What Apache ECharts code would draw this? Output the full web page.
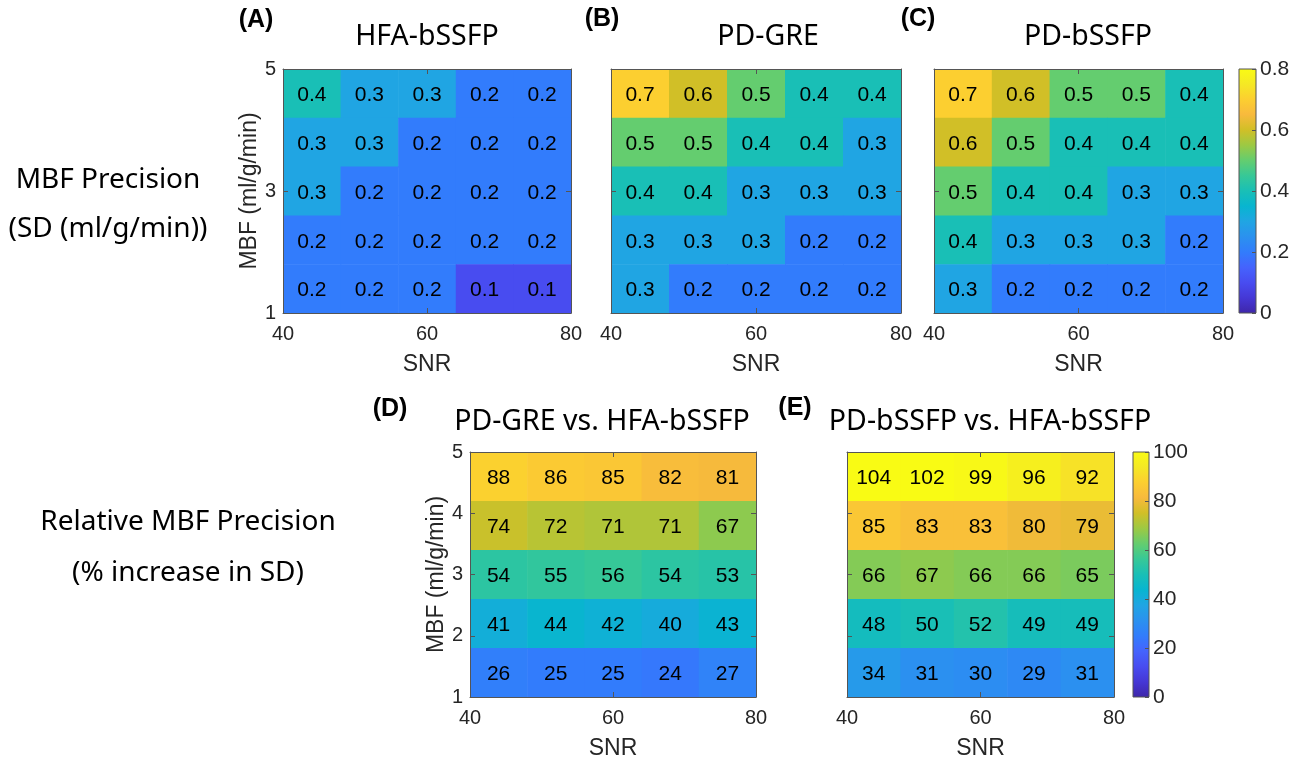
<!DOCTYPE html>
<html>
<head>
<meta charset="utf-8">
<script src="https://cdn.jsdelivr.net/npm/echarts@6/dist/echarts.min.js"></script>
<style>
  html, body { margin: 0; padding: 0; background: #fff; }
  #main { width: 1301px; height: 761px; }
</style>
</head>
<body>
<div id="main"></div>
<script>
// 5x5 simulation grid: SNR and MBF bin centres
var snr = [44, 52, 60, 68, 76];
var mbf = [4.6, 3.8, 3.0, 2.2, 1.4];
var snrBin = 8, mbfBin = 0.8;

// SD (ml/g/min), rows go from MBF 4.6 down to 1.4
var sdHfaBssfp = [
  [0.4, 0.3, 0.3, 0.2, 0.2],
  [0.3, 0.3, 0.2, 0.2, 0.2],
  [0.3, 0.2, 0.2, 0.2, 0.2],
  [0.2, 0.2, 0.2, 0.2, 0.2],
  [0.2, 0.2, 0.2, 0.1, 0.1]
];
var sdPdGre = [
  [0.7, 0.6, 0.5, 0.4, 0.4],
  [0.5, 0.5, 0.4, 0.4, 0.3],
  [0.4, 0.4, 0.3, 0.3, 0.3],
  [0.3, 0.3, 0.3, 0.2, 0.2],
  [0.3, 0.2, 0.2, 0.2, 0.2]
];
var sdPdBssfp = [
  [0.7, 0.6, 0.5, 0.5, 0.4],
  [0.6, 0.5, 0.4, 0.4, 0.4],
  [0.5, 0.4, 0.4, 0.3, 0.3],
  [0.4, 0.3, 0.3, 0.3, 0.2],
  [0.3, 0.2, 0.2, 0.2, 0.2]
];
// % increase in SD vs HFA-bSSFP
var relPdGre = [
  [88, 86, 85, 82, 81],
  [74, 72, 71, 71, 67],
  [54, 55, 56, 54, 53],
  [41, 44, 42, 40, 43],
  [26, 25, 25, 24, 27]
];
var relPdBssfp = [
  [104, 102, 99, 96, 92],
  [85, 83, 83, 80, 79],
  [66, 67, 66, 66, 65],
  [48, 50, 52, 49, 49],
  [34, 31, 30, 29, 31]
];

var titles = ['HFA-bSSFP', 'PD-GRE', 'PD-bSSFP', 'PD-GRE vs. HFA-bSSFP', 'PD-bSSFP vs. HFA-bSSFP'];
var tags = ['(A)', '(B)', '(C)', '(D)', '(E)'];
var rowLabels = [['MBF Precision', '(SD (ml/g/min))'], ['Relative MBF Precision', '(% increase in SD)']];
var sdRange = [0, 0.8], relRange = [0, 100];

// matlab parula
var parula = ['#3e26a8', '#4537d5', '#484cf0', '#4563fd', '#327cfc', '#2b91ef', '#20a5e3', '#08b5d0',
  '#19bfb6', '#37c897', '#64cd6f', '#9dc943', '#d1bf27', '#f8ba3d', '#fccf30', '#f5e924', '#f9fb14'];

var panels = [
  {data: sdHfaBssfp, grid: {left: 283, top: 69, width: 288, height: 244}, yLabels: true, yStep: 2, title: [427, 37], tag: [256, 20]},
  {data: sdPdGre, grid: {left: 611, top: 69, width: 290, height: 244}, yLabels: false, yStep: 2, title: [768, 37], tag: [602, 19]},
  {data: sdPdBssfp, grid: {left: 934, top: 69, width: 289, height: 244}, yLabels: false, yStep: 2, title: [1088, 37], tag: [918, 19]},
  {data: relPdGre, grid: {left: 470, top: 452, width: 286, height: 245}, yLabels: true, yStep: 1, title: [602, 422], tag: [390, 409]},
  {data: relPdBssfp, grid: {left: 847, top: 452, width: 267, height: 245}, yLabels: false, yStep: 1, title: [990, 422], tag: [795, 408]}
];
var bars = [
  {range: sdRange, step: 0.2, grid: {left: 1239, top: 69, width: 17, height: 244}},
  {range: relRange, step: 20, grid: {left: 1133, top: 452, width: 16, height: 245}}
];
var rowLabelPos = [[108, 180, 229], [188, 522, 573]];

var ink = '#262626', edge = '#555';
var font = '"Liberation Sans", Arial, sans-serif';
var font2 = '"Noto Sans", "Open Sans", sans-serif';

function toPoints(m) {
  var out = [];
  for (var r = 0; r < mbf.length; r++)
    for (var c = 0; c < snr.length; c++)
      out.push([snr[c], mbf[r], m[r][c]]);
  return out;
}

function renderCell(params, api) {
  var x = api.value(0), y = api.value(1);
  var p0 = api.coord([x - snrBin / 2, y + mbfBin / 2]);
  var p1 = api.coord([x + snrBin / 2, y - mbfBin / 2]);
  var c = api.coord([x, y]);
  return {
    type: 'group',
    children: [
      {type: 'rect', shape: {x: p0[0], y: p0[1], width: p1[0] - p0[0] + 0.6, height: p1[1] - p0[1] + 0.6},
       style: {fill: api.visual('color')}},
      {type: 'text', x: c[0], y: c[1] + 2,
       style: {text: String(api.value(2)), fill: '#000', fontSize: 21, fontFamily: font, align: 'center', verticalAlign: 'middle'}}
    ]
  };
}

function renderBar(params, api) {
  var p0 = api.coord([0, api.value(1)]);
  var p1 = api.coord([1, api.value(0)]);
  var stops = parula.map(function (c, i) { return {offset: i / (parula.length - 1), color: c}; });
  return {
    type: 'rect',
    shape: {x: p0[0], y: p0[1], width: p1[0] - p0[0], height: p1[1] - p0[1]},
    style: {fill: new echarts.graphic.LinearGradient(0, 1, 0, 0, stops), stroke: edge, lineWidth: 1}
  };
}

var grids = [], xAxes = [], yAxes = [], series = [], graphic = [];
var tick = {inside: true, length: 5, lineStyle: {color: edge}};
var line = {onZero: false, lineStyle: {color: edge, width: 1}};

panels.forEach(function (p, i) {
  grids.push(p.grid);
  xAxes.push({
    type: 'value', gridIndex: i, min: 40, max: 80, interval: 20, position: 'bottom', z: 5,
    name: 'SNR', nameLocation: 'middle', nameGap: 40,
    nameTextStyle: {fontSize: 23, color: ink, fontFamily: font},
    axisLine: line, axisTick: tick, splitLine: {show: false},
    axisLabel: {fontSize: 20, color: ink, margin: 11, fontFamily: font}
  });
  xAxes.push({
    type: 'value', gridIndex: i, min: 40, max: 80, interval: 20, position: 'top', z: 5,
    axisLine: line, axisTick: tick, splitLine: {show: false}, axisLabel: {show: false}
  });
  yAxes.push({
    type: 'value', gridIndex: i, min: 1, max: 5, interval: p.yStep, position: 'left', z: 5,
    name: p.yLabels ? 'MBF (ml/g/min)' : '', nameLocation: 'middle', nameGap: 20,
    nameTextStyle: {fontSize: 23, color: ink, fontFamily: font},
    axisLine: line, axisTick: tick, splitLine: {show: false},
    axisLabel: {show: p.yLabels, fontSize: 20, color: ink, margin: 7, fontFamily: font}
  });
  yAxes.push({
    type: 'value', gridIndex: i, min: 1, max: 5, interval: p.yStep, position: 'right', z: 5,
    axisLine: line, axisTick: tick, splitLine: {show: false}, axisLabel: {show: false}
  });
  series.push({
    type: 'custom', xAxisIndex: 2 * i, yAxisIndex: 2 * i,
    data: toPoints(p.data), renderItem: renderCell, encode: {x: 0, y: 1}
  });
  graphic.push({type: 'text', x: p.title[0], y: p.title[1],
    style: {text: titles[i], fill: '#000', fontSize: 28.5, fontFamily: font2, align: 'center', verticalAlign: 'middle'}});
  graphic.push({type: 'text', x: p.tag[0], y: p.tag[1],
    style: {text: tags[i], fill: '#000', fontSize: 25, fontWeight: 'bold', fontFamily: font, align: 'center', verticalAlign: 'middle'}});
});

bars.forEach(function (b, k) {
  var gi = panels.length + k;
  grids.push(b.grid);
  xAxes.push({type: 'value', gridIndex: gi, min: 0, max: 1, show: false});
  yAxes.push({
    type: 'value', gridIndex: gi, min: b.range[0], max: b.range[1], interval: b.step, position: 'right', z: 5,
    axisLine: {show: false, onZero: false}, axisTick: {inside: true, length: 4, lineStyle: {color: edge}},
    splitLine: {show: false},
    axisLabel: {fontSize: 21, color: ink, margin: 4, fontFamily: font}
  });
  series.push({
    type: 'custom', xAxisIndex: xAxes.length - 1, yAxisIndex: yAxes.length - 1,
    data: [[b.range[0], b.range[1]]], renderItem: renderBar, silent: true
  });
});

rowLabels.forEach(function (pair, k) {
  var pos = rowLabelPos[k];
  pair.forEach(function (t, j) {
    graphic.push({type: 'text', x: pos[0], y: pos[1 + j],
      style: {text: t, fill: '#000', fontSize: 28, fontFamily: font2, align: 'center', verticalAlign: 'middle'}});
  });
});

var chart = echarts.init(document.getElementById('main'));
chart.setOption({
  backgroundColor: '#fff',
  animation: false,
  textStyle: {fontFamily: font},
  grid: grids,
  xAxis: xAxes,
  yAxis: yAxes,
  visualMap: [
    {type: 'continuous', show: false, min: sdRange[0], max: sdRange[1], dimension: 2, seriesIndex: [0, 1, 2], inRange: {color: parula}},
    {type: 'continuous', show: false, min: relRange[0], max: relRange[1], dimension: 2, seriesIndex: [3, 4], inRange: {color: parula}}
  ],
  graphic: graphic,
  series: series
});
</script>
</body>
</html>
